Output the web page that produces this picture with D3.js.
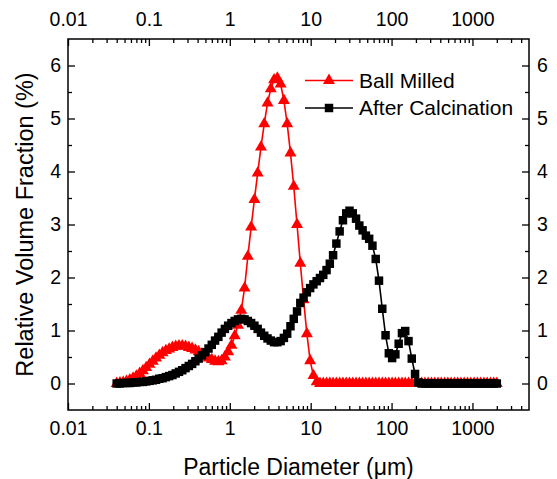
<!DOCTYPE html>
<html>
<head>
<meta charset="utf-8">
<title>particle size distribution</title>
<script src="https://cdn.jsdelivr.net/npm/d3@7"></script>
<style>
    html,
    body {
        margin: 0;
        padding: 0;
        background: #fff;
    }
    svg.main {
        display: block;
        font-family: "Liberation Sans", Arial, sans-serif;
    }
</style>
</head>
<body>
<svg class="main" width="557" height="479"></svg>
<script>
    // channel sizes (um)
    var diameters = [0.040, 0.0439, 0.0482, 0.0529, 0.0581, 0.0638, 0.0700, 0.0769, 0.0844, 0.0926,
        0.1017, 0.1117, 0.1226, 0.1346, 0.1477, 0.1622, 0.1780, 0.1955, 0.2146, 0.2356,
        0.2586, 0.2839, 0.3117, 0.3422, 0.3757, 0.4124, 0.4528, 0.4970, 0.5457, 0.5990,
        0.6576, 0.7219, 0.7926, 0.8701, 0.9552, 1.049, 1.151, 1.264, 1.387, 1.523,
        1.672, 1.836, 2.015, 2.212, 2.429, 2.666, 2.927, 3.214, 3.528, 3.873,
        4.252, 4.668, 5.125, 5.626, 6.176, 6.781, 7.444, 8.172, 8.971, 9.849,
        10.81, 11.87, 13.03, 14.31, 15.71, 17.24, 18.93, 20.78, 22.81, 25.05,
        27.50, 30.19, 33.14, 36.38, 39.94, 43.85, 48.14, 52.85, 58.02, 63.69,
        69.92, 76.76, 84.27, 92.51, 101.6, 111.5, 122.4, 134.4, 147.5, 162.0,
        177.8, 195.2, 214.3, 235.3, 258.3, 283.5, 311.3, 341.7, 375.2, 411.9,
        452.2, 496.4, 545.0, 598.3, 656.8, 721.1, 791.6, 869.1, 954.1, 1047,
        1150, 1262, 1386, 1521, 1670, 1833, 2000];

    var ballMilled = [0.00, 0.01, 0.02, 0.04, 0.07, 0.10, 0.14, 0.19, 0.24, 0.30,
        0.36, 0.42, 0.48, 0.53, 0.58, 0.62, 0.65, 0.68, 0.70, 0.71,
        0.71, 0.70, 0.68, 0.66, 0.63, 0.60, 0.56, 0.52, 0.48, 0.45,
        0.42, 0.41, 0.43, 0.50, 0.60, 0.72, 0.90, 1.10, 1.38, 1.80,
        2.40, 2.95, 3.47, 3.97, 4.46, 4.90, 5.29, 5.56, 5.73, 5.76,
        5.65, 5.34, 4.90, 4.35, 3.72, 3.00, 2.27, 1.58, 0.94, 0.43,
        0.15, 0.03, 0, 0, 0, 0, 0, 0, 0, 0,
        0, 0, 0, 0, 0, 0, 0, 0, 0, 0,
        0, 0, 0, 0, 0, 0, 0, 0, 0, 0,
        0, 0, 0, 0, 0, 0, 0, 0, 0, 0,
        0, 0, 0, 0, 0, 0, 0, 0, 0, 0,
        0, 0, 0, 0, 0, 0, 0];

    var afterCalcination = [0.00, 0.00, 0.01, 0.01, 0.01, 0.02, 0.02, 0.03, 0.03, 0.04,
        0.05, 0.06, 0.07, 0.09, 0.10, 0.12, 0.14, 0.16, 0.19, 0.22,
        0.25, 0.29, 0.33, 0.37, 0.42, 0.47, 0.53, 0.59, 0.66, 0.73,
        0.81, 0.88, 0.96, 1.03, 1.09, 1.14, 1.18, 1.21, 1.22, 1.21,
        1.18, 1.14, 1.09, 1.03, 0.96, 0.90, 0.85, 0.81, 0.78, 0.78,
        0.80, 0.86, 0.94, 1.08, 1.22, 1.36, 1.52, 1.62, 1.72, 1.80,
        1.87, 1.93, 1.99, 2.05, 2.14, 2.26, 2.42, 2.64, 2.87, 3.08,
        3.21, 3.26, 3.21, 3.11, 2.98, 2.89, 2.79, 2.73, 2.60, 2.35,
        1.94, 1.41, 0.91, 0.57, 0.48, 0.55, 0.75, 0.95, 0.99, 0.80,
        0.47, 0.18, 0.02, 0, 0, 0, 0, 0, 0, 0,
        0, 0, 0, 0, 0, 0, 0, 0, 0, 0,
        0, 0, 0, 0, 0, 0, 0];

    var seriesNames = ["Ball Milled", "After Calcination"];
    var xTicks = [0.01, 0.1, 1, 10, 100, 1000];
    var yTicks = [0, 1, 2, 3, 4, 5, 6];

    var svg = d3.select("svg");
    var L = 68, R = 529, T = 39, B = 410;

    var x = d3.scaleLog().domain([0.01, 5000]).range([L, R]);
    var y = d3.scaleLinear().domain([-0.5, 6.5]).range([B, T]);

    // minor ticks
    var xMinor = [];
    [0.01, 0.1, 1, 10, 100, 1000].forEach(function (dec) {
        for (var m = 2; m <= 9; m++) {
            if (dec * m < 5000) xMinor.push(dec * m);
        }
    });
    var yMinor = [0.5, 1.5, 2.5, 3.5, 4.5, 5.5];

    var fmtX = function (d) { return String(d); };
    var fmtY = d3.format("d");

    function styleAxis(g) {
        g.select(".domain").remove();
        g.selectAll("line").attr("stroke", "#000").attr("stroke-width", 1.3);
        g.selectAll("text").attr("font-family", "Liberation Sans, Arial, sans-serif")
            .attr("font-size", "19.5px").attr("fill", "#000");
    }

    // bottom
    svg.append("g").attr("transform", "translate(0," + B + ")")
        .call(d3.axisBottom(x).tickValues(xTicks).tickSize(-7).tickPadding(11).tickFormat(fmtX))
        .call(styleAxis);
    svg.append("g").attr("transform", "translate(0," + B + ")")
        .call(d3.axisBottom(x).tickValues(xMinor).tickSize(-4).tickFormat(""))
        .call(styleAxis);
    // top
    svg.append("g").attr("transform", "translate(0," + T + ")")
        .call(d3.axisTop(x).tickValues(xTicks).tickSize(-7).tickPadding(13).tickFormat(fmtX))
        .call(styleAxis);
    svg.append("g").attr("transform", "translate(0," + T + ")")
        .call(d3.axisTop(x).tickValues(xMinor).tickSize(-4).tickFormat(""))
        .call(styleAxis);
    // left
    svg.append("g").attr("transform", "translate(" + L + ",0)")
        .call(d3.axisLeft(y).tickValues(yTicks).tickSize(-7).tickPadding(7).tickFormat(fmtY))
        .call(styleAxis);
    svg.append("g").attr("transform", "translate(" + L + ",0)")
        .call(d3.axisLeft(y).tickValues(yMinor).tickSize(-4).tickFormat(""))
        .call(styleAxis);
    // right
    svg.append("g").attr("transform", "translate(" + R + ",0)")
        .call(d3.axisRight(y).tickValues(yTicks).tickSize(-7).tickPadding(8).tickFormat(fmtY))
        .call(styleAxis);
    svg.append("g").attr("transform", "translate(" + R + ",0)")
        .call(d3.axisRight(y).tickValues(yMinor).tickSize(-4).tickFormat(""))
        .call(styleAxis);

    // frame
    svg.append("rect")
        .attr("x", L).attr("y", T)
        .attr("width", R - L).attr("height", B - T)
        .attr("fill", "none").attr("stroke", "#000").attr("stroke-width", 1.5);

    // axis titles
    svg.append("text")
        .attr("x", (L + R) / 2).attr("y", 475)
        .attr("text-anchor", "middle")
        .attr("font-size", "23px")
        .text("Particle Diameter (\u03bcm)");
    svg.append("text")
        .attr("transform", "translate(33," + ((T + B) / 2) + ") rotate(-90)")
        .attr("text-anchor", "middle")
        .attr("font-size", "23.5px")
        .text("Relative Volume Fraction (%)");

    // series
    var line = d3.line()
        .x(function (d) { return x(d[0]); })
        .y(function (d) { return y(d[1]); });

    var series = [
        { name: seriesNames[0], values: ballMilled, color: "#ff0000", symbol: d3.symbolTriangle, size: 62 },
        { name: seriesNames[1], values: afterCalcination, color: "#000000", symbol: d3.symbolSquare, size: 72 }
    ];

    var plot = svg.append("g");
    series.forEach(function (s) {
        var pts = diameters.map(function (d, i) { return [d, s.values[i]]; });
        var g = plot.append("g");
        g.append("path")
            .datum(pts)
            .attr("fill", "none")
            .attr("stroke", s.color)
            .attr("stroke-width", 1.6)
            .attr("d", line);
        g.selectAll("path.pt")
            .data(pts)
            .enter()
            .append("path")
            .attr("class", "pt")
            .attr("transform", function (d) { return "translate(" + x(d[0]) + "," + y(d[1]) + ")"; })
            .attr("d", d3.symbol().type(s.symbol).size(s.size))
            .attr("fill", s.color);
    });

    // legend
    var legend = svg.append("g");
    series.forEach(function (s, i) {
        var ly = 80.5 + i * 27.5;
        legend.append("line")
            .attr("x1", 305).attr("x2", 353)
            .attr("y1", ly).attr("y2", ly)
            .attr("stroke", s.color).attr("stroke-width", 1.6);
        legend.append("path")
            .attr("transform", "translate(329," + ly + ")")
            .attr("d", d3.symbol().type(s.symbol).size(s.size))
            .attr("fill", s.color);
        legend.append("text")
            .attr("x", 359).attr("y", ly + 7)
            .attr("font-size", "21px")
            .text(s.name);
    });
</script>
</body>
</html>
